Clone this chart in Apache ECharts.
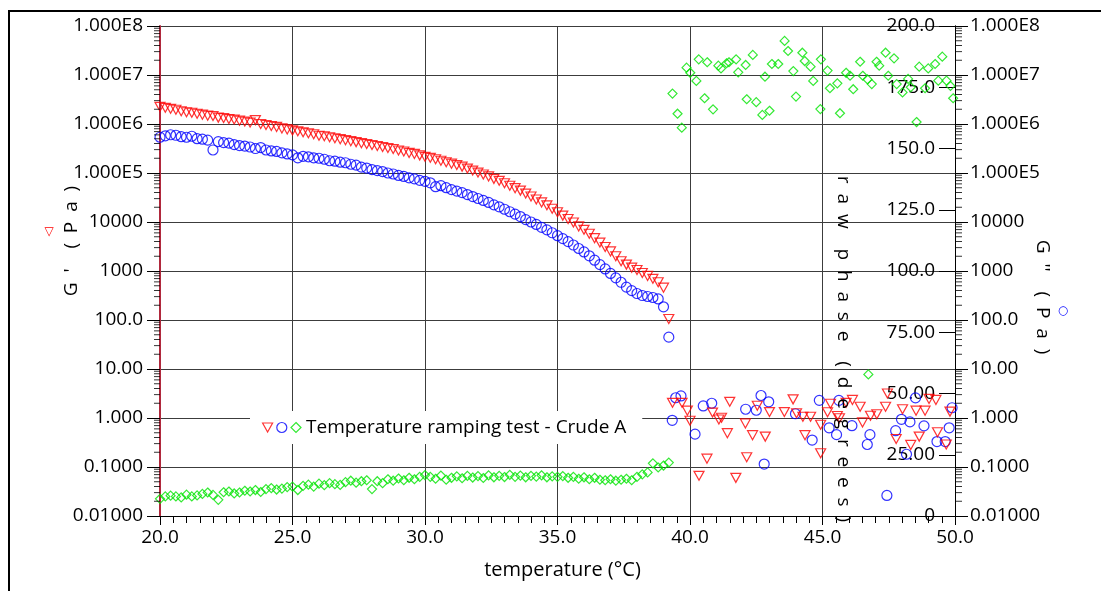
<!DOCTYPE html>
<html><head><meta charset="utf-8">
<script src="https://cdn.jsdelivr.net/npm/echarts/dist/echarts.min.js"></script>
<style>html,body{margin:0;padding:0;background:#fff}#c{width:1101px;height:591px}</style>
</head><body><div id="c"></div>
<script>
// ---------- data ----------
const temperature = [20.0,20.2,20.4,20.6,20.8,21.0,21.2,21.4,21.6,21.8,22.0,22.2,22.4,22.6,22.8,23.0,23.2,23.4,23.6,23.8,
24.0,24.2,24.4,24.6,24.8,25.0,25.2,25.4,25.6,25.8,26.0,26.2,26.4,26.6,26.8,27.0,27.2,27.4,27.6,27.8,
28.0,28.2,28.4,28.6,28.8,29.0,29.2,29.4,29.6,29.8,30.0,30.2,30.4,30.6,30.8,31.0,31.2,31.4,31.6,31.8,
32.0,32.2,32.4,32.6,32.8,33.0,33.2,33.4,33.6,33.8,34.0,34.2,34.4,34.6,34.8,35.0,35.2,35.4,35.6,35.8,
36.0,36.2,36.4,36.6,36.8,37.0,37.2,37.4,37.6,37.8,38.0,38.2,38.4,38.6,38.8,39.0,39.2];
const gPrime = [2.24e6,2.14e6,2.04e6,1.95e6,1.82e6,1.74e6,1.70e6,1.62e6,1.55e6,1.48e6,1.45e6,1.35e6,1.32e6,1.26e6,1.23e6,1.17e6,1.12e6,1.07e6,1.20e6,1.00e6,
9.55e5,9.12e5,8.71e5,8.13e5,7.76e5,7.41e5,7.08e5,6.76e5,6.46e5,6.17e5,5.75e5,5.62e5,5.37e5,5.13e5,4.90e5,4.68e5,4.47e5,4.27e5,4.07e5,3.89e5,
3.72e5,3.55e5,3.39e5,3.24e5,3.09e5,2.88e5,2.75e5,2.57e5,2.45e5,2.29e5,2.14e5,2.04e5,1.91e5,1.78e5,1.66e5,1.55e5,1.45e5,1.35e5,1.23e5,1.12e5,
1.02e5,9.33e4,8.51e4,7.59e4,6.92e4,6.17e4,5.50e4,4.90e4,4.37e4,3.80e4,3.31e4,2.88e4,2.51e4,2.19e4,1.86e4,1.58e4,1.35e4,1.15e4,9.77e3,8.13e3,
6.92e3,5.75e3,4.68e3,3.80e3,3.09e3,2.51e3,2.00e3,1.58e3,1.35e3,1.17e3,1.05e3,912,794,692,589,457,105];
const gDoublePrime = [5.37e5,5.75e5,6.03e5,5.89e5,5.50e5,5.37e5,5.62e5,5.01e5,4.90e5,4.68e5,2.95e5,4.37e5,4.17e5,4.07e5,3.80e5,3.63e5,3.55e5,3.39e5,3.16e5,3.31e5,
2.95e5,2.82e5,2.75e5,2.57e5,2.45e5,2.34e5,2.04e5,2.19e5,2.14e5,2.04e5,2.00e5,1.91e5,1.78e5,1.74e5,1.66e5,1.62e5,1.51e5,1.45e5,1.32e5,1.26e5,
1.17e5,1.12e5,1.07e5,1.00e5,9.55e4,8.91e4,8.51e4,7.94e4,7.59e4,7.08e4,6.76e4,6.31e4,5.25e4,5.50e4,5.01e4,4.57e4,4.27e4,3.98e4,3.63e4,3.31e4,
3.02e4,2.75e4,2.51e4,2.24e4,2.04e4,1.82e4,1.62e4,1.45e4,1.29e4,1.12e4,1.00e4,8.91e3,7.76e3,6.92e3,6.03e3,5.25e3,4.57e3,3.98e3,3.39e3,2.88e3,
2.45e3,2.04e3,1.66e3,1.35e3,1.10e3,891,724,589,468,398,347,316,302,288,269,186,44.7];
const rawPhase = [7.0,8.0,8.3,8.0,7.6,8.7,8.0,8.4,9.0,9.6,8.6,6.6,9.7,10.0,9.2,9.6,10.3,10.0,10.6,9.8,
11.0,11.4,10.8,11.2,11.8,12.0,10.6,12.3,12.8,12.0,13.2,12.6,13.4,13.0,12.7,13.8,14.4,13.6,14.2,14.6,
11.0,14.2,13.4,15.0,14.4,15.3,14.6,15.6,15.0,16.0,16.7,16.0,15.2,16.5,14.8,15.6,16.2,15.4,16.4,15.7,
16.3,15.5,16.6,15.8,16.4,15.9,16.8,16.0,16.5,15.8,16.4,16.1,16.6,15.8,16.2,16.0,16.3,15.6,16.0,15.2,
15.8,15.0,15.6,14.8,14.6,15.0,14.4,14.8,15.2,14.6,16.0,17.0,17.8,21.5,19.8,20.6,21.8];

// after the transition (noisy region)
const gPrimeHiT = [39.34,39.70,39.90,40.00,40.34,40.64,40.85,41.09,41.19,41.41,41.50,41.73,42.09,42.14,42.36,42.54,42.84,43.00,43.56,43.89,
44.02,44.26,44.34,44.55,44.93,44.93,45.19,45.30,45.56,45.64,45.89,46.13,46.42,46.51,46.81,47.05,47.38,47.45,47.78,48.02,
48.33,48.53,48.65,48.87,49.02,49.28,49.34,49.67,49.81];
const gPrimeHi = [2.04,2.04,1.41,0.881,0.066,0.148,1.29,0.933,1.01,0.490,2.14,0.060,0.776,0.158,0.447,1.78,0.417,1.32,1.32,2.40,
1.25,1.06,0.447,1.06,0.730,0.191,1.31,1.95,1.10,0.986,2.04,2.34,1.70,0.813,1.11,1.19,1.70,3.16,0.372,1.51,
0.282,1.41,0.417,1.41,2.45,2.34,0.513,0.288,1.35];
const gDoubleHiT = [39.33,39.46,39.66,40.19,40.50,40.82,42.10,42.50,42.68,42.80,42.97,43.98,44.61,44.88,45.25,45.53,45.62,46.11,46.69,46.79,
47.43,47.76,47.98,48.17,48.30,48.51,48.83,49.32,49.63,49.78,49.89];
const gDoubleHi = [0.898,2.59,2.82,0.468,1.76,2.00,1.51,1.44,2.88,0.115,2.14,1.22,0.355,2.29,0.631,0.457,2.29,0.697,0.288,0.457,
0.0263,0.550,0.940,0.182,0.832,2.57,0.692,0.331,0.331,0.631,1.62];
const phaseHiT = [39.34,39.53,39.69,39.87,40.01,40.24,40.33,40.55,40.65,40.87,41.07,41.17,41.38,41.47,41.74,41.82,42.10,42.14,42.37,42.50,
42.73,42.83,43.00,43.09,43.33,43.57,43.70,43.90,44.00,44.24,44.33,44.55,44.65,44.94,44.92,45.19,45.28,45.56,45.66,45.89,
46.04,46.16,46.42,46.52,46.70,46.73,46.86,47.04,47.14,47.38,47.48,47.70,47.80,48.02,48.23,48.33,48.55,48.65,48.87,48.99,
49.25,49.37,49.52,49.68,49.83,49.93];
const phaseHi = [172.4,164.2,158.5,183.0,180.9,177.6,186.4,170.5,185.2,166.0,183.8,182.7,184.8,185.2,186.4,181.1,184.1,170.1,188.2,168.9,
163.7,179.3,165.4,184.5,184.5,193.9,189.8,181.6,171.2,189.1,185.7,183.4,177.6,186.4,166.1,181.8,174.6,176.6,164.4,180.9,
179.7,174.2,185.4,179.7,178.2,57.8,176.3,185.4,183.8,189.1,179.7,186.8,176.3,172.9,178.4,175.0,160.8,183.4,174.6,182.7,
184.5,177.7,187.5,177.7,175.5,170.5];

const xTickLabels = ['20.0','25.0','30.0','35.0','40.0','45.0','50.0'];
const logTickLabels = ['0.01000','0.1000','1.000','10.00','100.0','1000','10000','1.000E5','1.000E6','1.000E7','1.000E8'];
const phaseTickLabels = ['0','25.00','50.00','75.00','100.0','125.0','150.0','175.0','200.0'];
const seriesNames = ["G'", "G''", 'raw phase'];
const legendLabel = 'Temperature ramping test - Crude A';
const xTitle = 'temperature (°C)';

// ---------- build ----------
const FONT = "'Open Sans', 'Liberation Sans', sans-serif";
const pairs = (xs, ys) => xs.map((x, i) => [x, ys[i]]);
const redData = pairs(temperature, gPrime).concat(pairs(gPrimeHiT, gPrimeHi));
const blueData = pairs(temperature, gDoublePrime).concat(pairs(gDoubleHiT, gDoubleHi));
const greenData = pairs(temperature, rawPhase).concat(pairs(phaseHiT, phaseHi));

// log minor tick positions (2..9 x 10^k)
const leftMinor = [], rightMinor = [];
for (let k = -2; k < 8; k++) for (let m = 2; m <= 9; m++) {
  leftMinor.push([20, m * Math.pow(10, k)]);
  rightMinor.push([50, m * Math.pow(10, k)]);
}
const triPath = 'path://M0,0L10,0L5,9Z';
const RED = '#ff0000', BLUE = '#0000ff', GREEN = '#00e400';
const GRID = '#3c3c3c';
const logLabel = v => logTickLabels[Math.round(Math.log10(v)) + 2];

const chart = echarts.init(document.getElementById('c'), null, {renderer: 'canvas'});
chart.setOption({
  backgroundColor: '#fff',
  animation: false,
  textStyle: {fontFamily: FONT},
  grid: {left: 160, top: 26, right: 146, bottom: 75, containLabel: false},
  xAxis: {
    type: 'value', min: 20, max: 50, interval: 5,
    axisLine: {show: true, onZero: false, lineStyle: {color: '#000', width: 1}},
    axisTick: {show: true, length: 9, lineStyle: {color: '#000'}},
    minorTick: {show: true, splitNumber: 10, length: 7, lineStyle: {color: '#000'}},
    splitLine: {show: true, lineStyle: {color: GRID, width: 1}},
    axisLabel: {formatter: v => xTickLabels[Math.round((v - 20) / 5)], fontSize: 19, color: '#000', margin: 12, fontFamily: FONT},
    name: xTitle, nameLocation: 'middle', nameGap: 44,
    nameTextStyle: {fontSize: 20, color: '#000', fontFamily: FONT, padding: [0, 0, 0, 10]}
  },
  yAxis: [
    {
      type: 'log', logBase: 10, min: 0.01, max: 1e8, interval: 1, splitNumber: 10, position: 'left',
      axisLine: {show: true, onZero: false, lineStyle: {color: '#b0283c', width: 2}},
      axisTick: {show: true, length: 13, lineStyle: {color: '#000'}},
      splitLine: {show: true, lineStyle: {color: GRID, width: 1}},
      axisLabel: {formatter: logLabel, fontSize: 19, color: '#000', margin: 17, fontFamily: FONT, interval: 0}
    },
    {
      type: 'value', min: 0, max: 200, interval: 25, position: 'right', offset: 0,
      axisLine: {show: true, onZero: false, lineStyle: {color: '#000', width: 1}},
      axisTick: {show: true, inside: true, length: 16, lineStyle: {color: '#000'}},
      splitLine: {show: false},
      axisLabel: {inside: true, margin: 20, formatter: v => phaseTickLabels[Math.round(v / 25)], fontSize: 19, color: '#000', fontFamily: FONT}
    },
    {
      type: 'log', logBase: 10, min: 0.01, max: 1e8, interval: 1, splitNumber: 10, position: 'right', offset: 0,
      axisLine: {show: true, onZero: false, lineStyle: {color: '#000', width: 1}},
      axisTick: {show: true, length: 13, lineStyle: {color: '#000'}},
      splitLine: {show: false},
      axisLabel: {formatter: logLabel, fontSize: 19, color: '#000', margin: 15, fontFamily: FONT, interval: 0}
    }
  ],
  legend: {
    left: 250, top: 411, orient: 'horizontal',
    padding: [7, 16, 7, 12], backgroundColor: '#fff',
    itemGap: 3, itemWidth: 10, itemHeight: 10, selectedMode: false,
    textStyle: {fontSize: 19, color: '#000', fontFamily: FONT},
    formatter: n => (n === seriesNames[2] ? legendLabel : ''),
    data: [
      {name: seriesNames[0], icon: triPath, itemStyle: {color: 'transparent', borderColor: RED, borderWidth: 1.2}},
      {name: seriesNames[1], icon: 'circle', itemStyle: {color: 'transparent', borderColor: BLUE, borderWidth: 1.2}},
      {name: seriesNames[2], icon: 'diamond', itemStyle: {color: 'transparent', borderColor: GREEN, borderWidth: 1.2}}
    ]
  },
  series: [
    {name: seriesNames[2], type: 'scatter', yAxisIndex: 1, data: greenData, symbol: 'diamond', symbolSize: 9,
      itemStyle: {color: 'transparent', borderColor: GREEN, borderWidth: 1.2}, clip: false, z: 3},
    {name: seriesNames[1], type: 'scatter', yAxisIndex: 2, data: blueData, symbol: 'circle', symbolSize: 10,
      itemStyle: {color: 'transparent', borderColor: BLUE, borderWidth: 1.2}, clip: false, z: 4},
    {name: seriesNames[0], type: 'scatter', yAxisIndex: 0, data: redData, symbol: triPath, symbolSize: [10, 9],
      itemStyle: {color: 'transparent', borderColor: RED, borderWidth: 1.2}, clip: false, z: 5},
    {name: 'leftMinorTicks', type: 'scatter', yAxisIndex: 0, data: leftMinor, symbol: 'rect', symbolSize: [6, 1],
      symbolOffset: [-3, 0], itemStyle: {color: '#000'}, silent: true, clip: false, z: 6},
    {name: 'rightMinorTicks', type: 'scatter', yAxisIndex: 2, data: rightMinor, symbol: 'rect', symbolSize: [7, 1],
      symbolOffset: [3.5, 0], itemStyle: {color: '#000'}, silent: true, clip: false, z: 6}
  ],
  graphic: [
    {type: 'rect', silent: true, z: 100, shape: {x: 9, y: 11, width: 1200, height: 700},
      style: {fill: 'none', stroke: '#000', lineWidth: 2}},
    {type: 'text', x: 72, y: 241, rotation: Math.PI / 2, z: 100,
      style: {text: "G  '    (  P  a  )", fontSize: 19, fontFamily: FONT, fill: '#000', align: 'center', verticalAlign: 'middle'}},
    {type: 'text', x: 49, y: 232, z: 100,
      style: {text: '▽', fontSize: 12, fontFamily: 'DejaVu Sans', fill: RED, align: 'center', verticalAlign: 'middle'}},
    {type: 'text', x: 1042, y: 297, rotation: -Math.PI / 2, z: 100,
      style: {text: "G  ''    (  P  a  )", fontSize: 19, fontFamily: FONT, fill: '#000', align: 'center', verticalAlign: 'middle'}},
    {type: 'text', x: 1063, y: 311, z: 100,
      style: {text: '○', fontSize: 12, fontFamily: 'DejaVu Sans', fill: BLUE, align: 'center', verticalAlign: 'middle'}},
    {type: 'text', x: 843, y: 349, rotation: -Math.PI / 2, z: 100,
      style: {text: 'r  a  w    p  h  a  s  e    (  d  e  g  r  e  e  s  )', fontSize: 19, fontFamily: FONT, fill: '#000', align: 'center', verticalAlign: 'middle'}}
  ]
});
</script></body></html>
